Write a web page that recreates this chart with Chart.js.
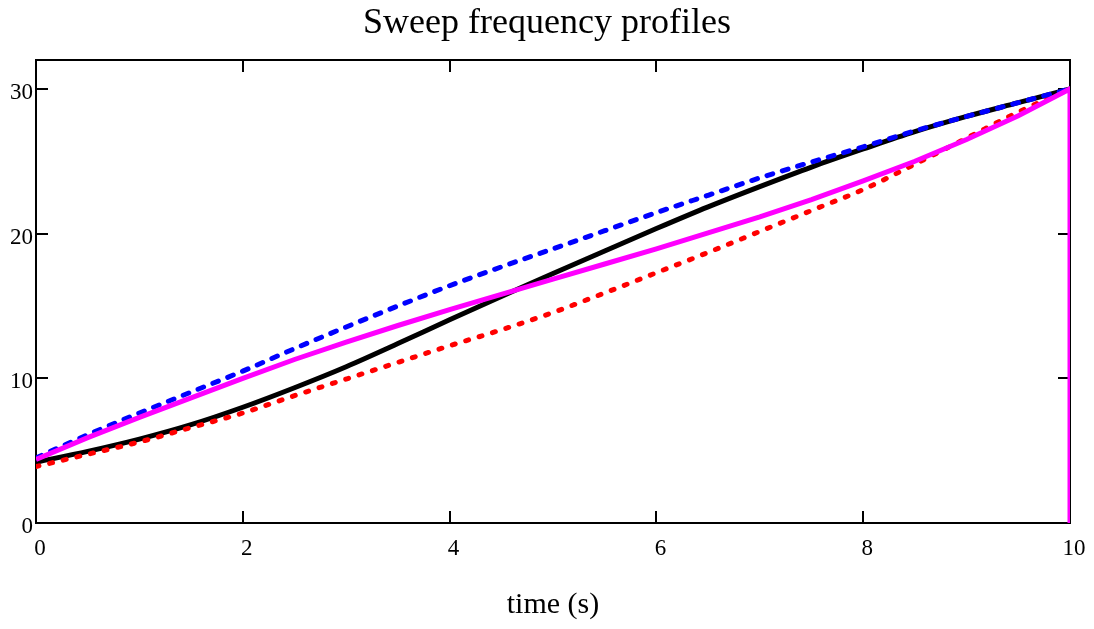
<!DOCTYPE html>
<html>
<head>
<meta charset="utf-8">
<script src="https://cdn.jsdelivr.net/npm/chart.js@4/dist/chart.umd.min.js"></script>
<style>
  html, body { margin: 0; padding: 0; background: #fff; }
  #wrap { width: 1094px; height: 629px; }
</style>
</head>
<body>
<div id="wrap"><canvas id="c" width="1094" height="629"></canvas></div>
<script>
const times = [0, 0.5, 1, 1.5, 2, 2.5, 3, 3.5, 4, 4.5, 5, 5.5, 6, 6.5, 7, 7.5, 8, 8.5, 9, 9.5, 10];
const blackProfile = [4.2, 4.95, 5.8, 6.8, 8.0, 9.35, 10.8, 12.4, 14.05, 15.65, 17.25, 18.8, 20.35, 21.85, 23.25, 24.6, 25.85, 27.05, 28.1, 29.05, 30.0];
const blueProfile = [4.5, 6.1, 7.6, 9.05, 10.5, 12.05, 13.55, 15.0, 16.4, 17.7, 18.95, 20.2, 21.45, 22.65, 23.85, 24.95, 26.0, 27.1, 28.1, 29.05, 30.0];
const redProfile = [3.9, 4.75, 5.6, 6.6, 7.6, 8.8, 9.95, 11.1, 12.25, 13.35, 14.55, 15.9, 17.3, 18.7, 20.15, 21.6, 23.05, 24.8, 26.6, 28.4, 30.0];
const magentaProfile = [4.4, 5.9, 7.3, 8.65, 10.0, 11.3, 12.5, 13.65, 14.75, 15.8, 16.85, 17.9, 18.95, 20.05, 21.15, 22.35, 23.65, 25.0, 26.5, 28.15, 30.0];
const magentaDropTime = 10;
const magentaDropValue = 0;
const xTicks = [0, 2, 4, 6, 8, 10];
const yTicks = [0, 10, 20, 30];

function pts(vals) { return times.map((t, i) => ({ x: t, y: vals[i] })); }

const magentaPts = pts(magentaProfile).concat([{ x: magentaDropTime, y: magentaDropValue }]);

const frameTicks = {
  id: 'frameTicks',
  beforeDatasetsDraw(chart) {
    const { ctx, chartArea: a, scales } = chart;
    ctx.save();
    ctx.strokeStyle = '#000';
    ctx.lineWidth = 2;
    ctx.strokeRect(a.left, a.top, a.right - a.left, a.bottom - a.top);
    const L = 12;
    ctx.beginPath();
    xTicks.forEach(v => {
      const px = Math.round(scales.x.getPixelForValue(v));
      ctx.moveTo(px, a.bottom); ctx.lineTo(px, a.bottom - L);
      ctx.moveTo(px, a.top); ctx.lineTo(px, a.top + L);
    });
    yTicks.forEach(v => {
      const py = Math.round(scales.y.getPixelForValue(v));
      ctx.moveTo(a.left, py); ctx.lineTo(a.left + L, py);
      ctx.moveTo(a.right, py); ctx.lineTo(a.right - L, py);
    });
    ctx.stroke();
    ctx.restore();
  }
};

const serif = 'Liberation Serif, Times New Roman, serif';

new Chart(document.getElementById('c'), {
  type: 'scatter',
  data: {
    datasets: [
      { label: 'magenta', data: magentaPts, showLine: true, borderColor: '#ff00ff', borderWidth: 5, pointRadius: 0, tension: 0, order: 1 },
      { label: 'blue', data: pts(blueProfile), showLine: true, borderColor: '#0000ff', borderWidth: 5, pointRadius: 0, cubicInterpolationMode: 'monotone', borderDash: [6, 10], borderCapStyle: 'round', order: 2 },
      { label: 'red', data: pts(redProfile), showLine: true, borderColor: '#ff0000', borderWidth: 5, pointRadius: 0, cubicInterpolationMode: 'monotone', borderDash: [3, 11], borderCapStyle: 'round', order: 3 },
      { label: 'black', data: pts(blackProfile), showLine: true, borderColor: '#000000', borderWidth: 5, pointRadius: 0, cubicInterpolationMode: 'monotone', order: 4 }
    ]
  },
  options: {
    responsive: false,
    animation: false,
    layout: { padding: { left: 0, right: 0, top: 0, bottom: 0 } },
    plugins: {
      legend: { display: false },
      tooltip: { enabled: false },
      title: {
        display: true,
        text: 'Sweep frequency profiles',
        color: '#000',
        font: { family: serif, size: 36, weight: 'normal', lineHeight: 1.2 },
        padding: { top: 2, bottom: 14.8 }
      }
    },
    scales: {
      x: {
        type: 'linear',
        min: 0, max: 10,
        afterFit(s) { s.height = 106; },
        afterBuildTicks(s) { s.ticks = xTicks.map(v => ({ value: v })); },
        grid: { display: false, drawTicks: false },
        border: { display: false },
        ticks: { color: '#000', padding: 12, labelOffset: 4, font: { family: serif, size: 23 }, maxRotation: 0 },
        title: { display: true, text: 'time (s)', color: '#000', font: { family: serif, size: 30 }, padding: { top: 0, bottom: 6 } }
      },
      y: {
        type: 'linear',
        min: 0, max: 32,
        afterFit(s) { s.width = 36; },
        afterBuildTicks(s) { s.ticks = yTicks.map(v => ({ value: v })); },
        grid: { display: false, drawTicks: false },
        border: { display: false },
        ticks: { color: '#000', padding: 3, labelOffset: 4, font: { family: serif, size: 23 } }
      },
      yRight: {
        type: 'linear',
        position: 'right',
        min: 0, max: 32,
        afterFit(s) { s.width = 24; },
        grid: { display: false, drawTicks: false },
        border: { display: false },
        ticks: { display: false }
      }
    }
  },
  plugins: [frameTicks]
});
</script>
</body>
</html>
